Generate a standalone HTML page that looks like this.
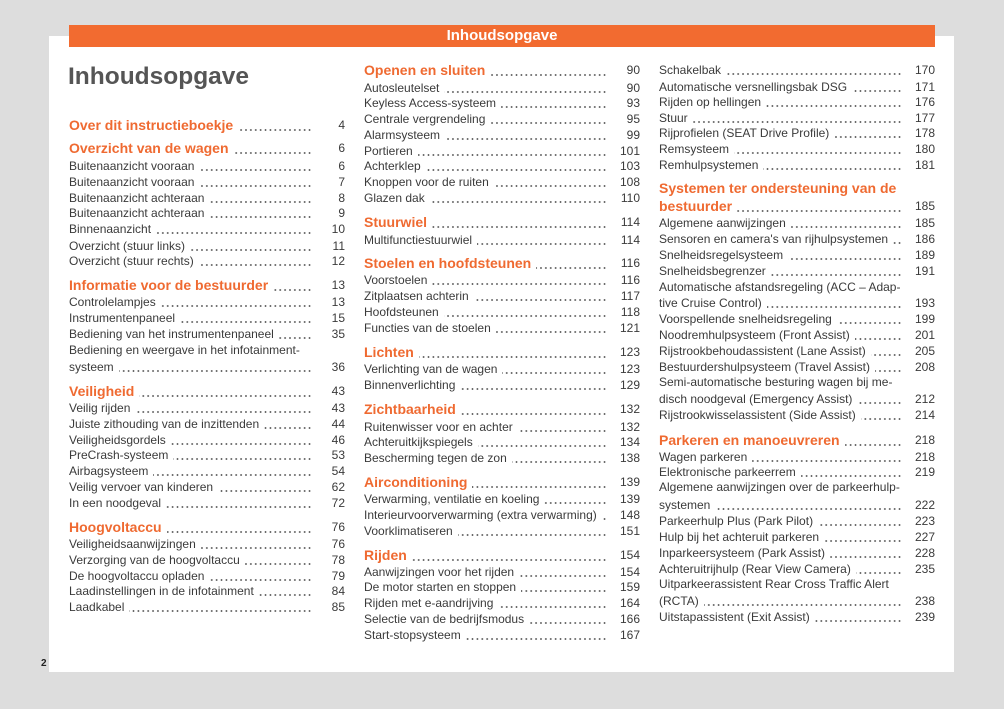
<!DOCTYPE html>
<html><head><meta charset="utf-8">
<style>
html,body{margin:0;padding:0;}
body{width:1004px;height:709px;background:#dddddd;position:relative;overflow:hidden;font-family:"Liberation Sans",Arial,sans-serif;color:#3a3a3a;}
.page{position:absolute;left:49px;top:36px;width:905px;height:636px;background:#fff;}
.bar{position:absolute;left:69px;top:25px;width:866px;height:22px;background:#f26b30;color:#fff;font-weight:bold;font-size:15px;line-height:22px;text-align:center;}
.title{position:absolute;left:68px;top:62px;font-size:24.5px;font-weight:bold;color:#555;line-height:30px;}
.r{position:absolute;width:276px;height:16px;line-height:16px;font-size:12px;white-space:nowrap;}
.r .d{position:absolute;left:0;right:33px;top:11px;height:2px;background-image:radial-gradient(circle,#555 0.7px,rgba(255,255,255,0) 1.1px);background-size:4.9px 2px;background-repeat:repeat-x;background-position:right center;}
.r .t{position:relative;background:#fff;padding-right:5px;}
.r .n{position:absolute;right:0;top:0;}
.h{height:18px;line-height:18px;}
.h .t{font-size:14px;font-weight:bold;color:#ef6a31;}
.h .d{top:13px;}
.h .n{font-size:12px;}
.L{left:69px;}
.M{left:364px;}
.R{left:659px;}
.pn{position:absolute;left:41px;top:658px;font-size:10px;font-weight:bold;color:#222;}
</style></head><body>
<div class="page"></div>
<div class="bar">Inhoudsopgave</div>
<div class="title">Inhoudsopgave</div>

<!-- LEFT COLUMN -->
<div class="r h L" style="top:115.5px"><span class="d"></span><span class="t">Over dit instructieboekje</span><span class="n">4</span></div>
<div class="r h L" style="top:138.5px"><span class="d"></span><span class="t">Overzicht van de wagen</span><span class="n">6</span></div>
<div class="r L" style="top:158px"><span class="d"></span><span class="t">Buitenaanzicht vooraan</span><span class="n">6</span></div>
<div class="r L" style="top:174px"><span class="d"></span><span class="t">Buitenaanzicht vooraan</span><span class="n">7</span></div>
<div class="r L" style="top:190px"><span class="d"></span><span class="t">Buitenaanzicht achteraan</span><span class="n">8</span></div>
<div class="r L" style="top:205px"><span class="d"></span><span class="t">Buitenaanzicht achteraan</span><span class="n">9</span></div>
<div class="r L" style="top:221px"><span class="d"></span><span class="t">Binnenaanzicht</span><span class="n">10</span></div>
<div class="r L" style="top:237.5px"><span class="d"></span><span class="t">Overzicht (stuur links)</span><span class="n">11</span></div>
<div class="r L" style="top:253px"><span class="d"></span><span class="t">Overzicht (stuur rechts)</span><span class="n">12</span></div>
<div class="r h L" style="top:275.5px"><span class="d"></span><span class="t">Informatie voor de bestuurder</span><span class="n">13</span></div>
<div class="r L" style="top:294px"><span class="d"></span><span class="t">Controlelampjes</span><span class="n">13</span></div>
<div class="r L" style="top:310px"><span class="d"></span><span class="t">Instrumentenpaneel</span><span class="n">15</span></div>
<div class="r L" style="top:326px"><span class="d"></span><span class="t">Bediening van het instrumentenpaneel</span><span class="n">35</span></div>
<div class="r L" style="top:342px"><span class="t">Bediening en weergave in het infotainment-</span></div>
<div class="r L" style="top:358.5px"><span class="d"></span><span class="t">systeem</span><span class="n">36</span></div>
<div class="r h L" style="top:381.5px"><span class="d"></span><span class="t">Veiligheid</span><span class="n">43</span></div>
<div class="r L" style="top:400px"><span class="d"></span><span class="t">Veilig rijden</span><span class="n">43</span></div>
<div class="r L" style="top:416px"><span class="d"></span><span class="t">Juiste zithouding van de inzittenden</span><span class="n">44</span></div>
<div class="r L" style="top:431.5px"><span class="d"></span><span class="t">Veiligheidsgordels</span><span class="n">46</span></div>
<div class="r L" style="top:447px"><span class="d"></span><span class="t">PreCrash-systeem</span><span class="n">53</span></div>
<div class="r L" style="top:463px"><span class="d"></span><span class="t">Airbagsysteem</span><span class="n">54</span></div>
<div class="r L" style="top:479px"><span class="d"></span><span class="t">Veilig vervoer van kinderen</span><span class="n">62</span></div>
<div class="r L" style="top:495px"><span class="d"></span><span class="t">In een noodgeval</span><span class="n">72</span></div>
<div class="r h L" style="top:517.5px"><span class="d"></span><span class="t">Hoogvoltaccu</span><span class="n">76</span></div>
<div class="r L" style="top:536px"><span class="d"></span><span class="t">Veiligheidsaanwijzingen</span><span class="n">76</span></div>
<div class="r L" style="top:552px"><span class="d"></span><span class="t">Verzorging van de hoogvoltaccu</span><span class="n">78</span></div>
<div class="r L" style="top:567.5px"><span class="d"></span><span class="t">De hoogvoltaccu opladen</span><span class="n">79</span></div>
<div class="r L" style="top:583px"><span class="d"></span><span class="t">Laadinstellingen in de infotainment</span><span class="n">84</span></div>
<div class="r L" style="top:599px"><span class="d"></span><span class="t">Laadkabel</span><span class="n">85</span></div>

<!-- MIDDLE COLUMN -->
<div class="r h M" style="top:60.5px"><span class="d"></span><span class="t">Openen en sluiten</span><span class="n">90</span></div>
<div class="r M" style="top:79.7px"><span class="d"></span><span class="t">Autosleutelset</span><span class="n">90</span></div>
<div class="r M" style="top:95px"><span class="d"></span><span class="t">Keyless Access-systeem</span><span class="n">93</span></div>
<div class="r M" style="top:111px"><span class="d"></span><span class="t">Centrale vergrendeling</span><span class="n">95</span></div>
<div class="r M" style="top:127px"><span class="d"></span><span class="t">Alarmsysteem</span><span class="n">99</span></div>
<div class="r M" style="top:143px"><span class="d"></span><span class="t">Portieren</span><span class="n">101</span></div>
<div class="r M" style="top:158px"><span class="d"></span><span class="t">Achterklep</span><span class="n">103</span></div>
<div class="r M" style="top:174px"><span class="d"></span><span class="t">Knoppen voor de ruiten</span><span class="n">108</span></div>
<div class="r M" style="top:190px"><span class="d"></span><span class="t">Glazen dak</span><span class="n">110</span></div>
<div class="r h M" style="top:212.5px"><span class="d"></span><span class="t">Stuurwiel</span><span class="n">114</span></div>
<div class="r M" style="top:232px"><span class="d"></span><span class="t">Multifunctiestuurwiel</span><span class="n">114</span></div>
<div class="r h M" style="top:253.5px"><span class="d"></span><span class="t">Stoelen en hoofdsteunen</span><span class="n">116</span></div>
<div class="r M" style="top:272px"><span class="d"></span><span class="t">Voorstoelen</span><span class="n">116</span></div>
<div class="r M" style="top:288px"><span class="d"></span><span class="t">Zitplaatsen achterin</span><span class="n">117</span></div>
<div class="r M" style="top:304px"><span class="d"></span><span class="t">Hoofdsteunen</span><span class="n">118</span></div>
<div class="r M" style="top:320px"><span class="d"></span><span class="t">Functies van de stoelen</span><span class="n">121</span></div>
<div class="r h M" style="top:342.5px"><span class="d"></span><span class="t">Lichten</span><span class="n">123</span></div>
<div class="r M" style="top:361px"><span class="d"></span><span class="t">Verlichting van de wagen</span><span class="n">123</span></div>
<div class="r M" style="top:377px"><span class="d"></span><span class="t">Binnenverlichting</span><span class="n">129</span></div>
<div class="r h M" style="top:399.5px"><span class="d"></span><span class="t">Zichtbaarheid</span><span class="n">132</span></div>
<div class="r M" style="top:418.7px"><span class="d"></span><span class="t">Ruitenwisser voor en achter</span><span class="n">132</span></div>
<div class="r M" style="top:434px"><span class="d"></span><span class="t">Achteruitkijkspiegels</span><span class="n">134</span></div>
<div class="r M" style="top:450px"><span class="d"></span><span class="t">Bescherming tegen de zon</span><span class="n">138</span></div>
<div class="r h M" style="top:472.5px"><span class="d"></span><span class="t">Airconditioning</span><span class="n">139</span></div>
<div class="r M" style="top:491px"><span class="d"></span><span class="t">Verwarming, ventilatie en koeling</span><span class="n">139</span></div>
<div class="r M" style="top:507px"><span class="d"></span><span class="t">Interieurvoorverwarming (extra verwarming)</span><span class="n">148</span></div>
<div class="r M" style="top:523px"><span class="d"></span><span class="t">Voorklimatiseren</span><span class="n">151</span></div>
<div class="r h M" style="top:545.5px"><span class="d"></span><span class="t">Rijden</span><span class="n">154</span></div>
<div class="r M" style="top:564px"><span class="d"></span><span class="t">Aanwijzingen voor het rijden</span><span class="n">154</span></div>
<div class="r M" style="top:579px"><span class="d"></span><span class="t">De motor starten en stoppen</span><span class="n">159</span></div>
<div class="r M" style="top:595px"><span class="d"></span><span class="t">Rijden met e-aandrijving</span><span class="n">164</span></div>
<div class="r M" style="top:611px"><span class="d"></span><span class="t">Selectie van de bedrijfsmodus</span><span class="n">166</span></div>
<div class="r M" style="top:627px"><span class="d"></span><span class="t">Start-stopsysteem</span><span class="n">167</span></div>

<!-- RIGHT COLUMN -->
<div class="r R" style="top:62px"><span class="d"></span><span class="t">Schakelbak</span><span class="n">170</span></div>
<div class="r R" style="top:78.5px"><span class="d"></span><span class="t">Automatische versnellingsbak DSG</span><span class="n">171</span></div>
<div class="r R" style="top:94px"><span class="d"></span><span class="t">Rijden op hellingen</span><span class="n">176</span></div>
<div class="r R" style="top:109.7px"><span class="d"></span><span class="t">Stuur</span><span class="n">177</span></div>
<div class="r R" style="top:125px"><span class="d"></span><span class="t">Rijprofielen (SEAT Drive Profile)</span><span class="n">178</span></div>
<div class="r R" style="top:141px"><span class="d"></span><span class="t">Remsysteem</span><span class="n">180</span></div>
<div class="r R" style="top:157px"><span class="d"></span><span class="t">Remhulpsystemen</span><span class="n">181</span></div>
<div class="r h R" style="top:179.2px"><span class="t">Systemen ter ondersteuning van de</span></div>
<div class="r h R" style="top:196.5px"><span class="d"></span><span class="t">bestuurder</span><span class="n">185</span></div>
<div class="r R" style="top:215px"><span class="d"></span><span class="t">Algemene aanwijzingen</span><span class="n">185</span></div>
<div class="r R" style="top:231px"><span class="d"></span><span class="t">Sensoren en camera's van rijhulpsystemen</span><span class="n">186</span></div>
<div class="r R" style="top:247px"><span class="d"></span><span class="t">Snelheidsregelsysteem</span><span class="n">189</span></div>
<div class="r R" style="top:263px"><span class="d"></span><span class="t">Snelheidsbegrenzer</span><span class="n">191</span></div>
<div class="r R" style="top:279px"><span class="t">Automatische afstandsregeling (ACC – Adap-</span></div>
<div class="r R" style="top:295px"><span class="d"></span><span class="t">tive Cruise Control)</span><span class="n">193</span></div>
<div class="r R" style="top:311px"><span class="d"></span><span class="t">Voorspellende snelheidsregeling</span><span class="n">199</span></div>
<div class="r R" style="top:327px"><span class="d"></span><span class="t">Noodremhulpsysteem (Front Assist)</span><span class="n">201</span></div>
<div class="r R" style="top:343px"><span class="d"></span><span class="t">Rijstrookbehoudassistent (Lane Assist)</span><span class="n">205</span></div>
<div class="r R" style="top:359px"><span class="d"></span><span class="t">Bestuurdershulpsysteem (Travel Assist)</span><span class="n">208</span></div>
<div class="r R" style="top:374px"><span class="t">Semi-automatische besturing wagen bij me-</span></div>
<div class="r R" style="top:391px"><span class="d"></span><span class="t">disch noodgeval (Emergency Assist)</span><span class="n">212</span></div>
<div class="r R" style="top:407px"><span class="d"></span><span class="t">Rijstrookwisselassistent (Side Assist)</span><span class="n">214</span></div>
<div class="r h R" style="top:430.5px"><span class="d"></span><span class="t">Parkeren en manoeuvreren</span><span class="n">218</span></div>
<div class="r R" style="top:449px"><span class="d"></span><span class="t">Wagen parkeren</span><span class="n">218</span></div>
<div class="r R" style="top:464px"><span class="d"></span><span class="t">Elektronische parkeerrem</span><span class="n">219</span></div>
<div class="r R" style="top:479px"><span class="t">Algemene aanwijzingen over de parkeerhulp-</span></div>
<div class="r R" style="top:497px"><span class="d"></span><span class="t">systemen</span><span class="n">222</span></div>
<div class="r R" style="top:513px"><span class="d"></span><span class="t">Parkeerhulp Plus (Park Pilot)</span><span class="n">223</span></div>
<div class="r R" style="top:529px"><span class="d"></span><span class="t">Hulp bij het achteruit parkeren</span><span class="n">227</span></div>
<div class="r R" style="top:545px"><span class="d"></span><span class="t">Inparkeersysteem (Park Assist)</span><span class="n">228</span></div>
<div class="r R" style="top:561px"><span class="d"></span><span class="t">Achteruitrijhulp (Rear View Camera)</span><span class="n">235</span></div>
<div class="r R" style="top:576px"><span class="t">Uitparkeerassistent Rear Cross Traffic Alert</span></div>
<div class="r R" style="top:593px"><span class="d"></span><span class="t">(RCTA)</span><span class="n">238</span></div>
<div class="r R" style="top:609px"><span class="d"></span><span class="t">Uitstapassistent (Exit Assist)</span><span class="n">239</span></div>

<div class="pn">2</div>
</body></html>
